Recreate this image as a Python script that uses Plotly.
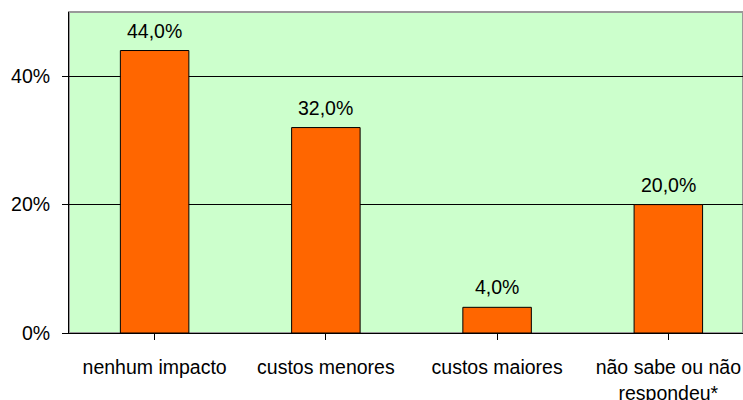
import plotly.graph_objects as go

categories = ["nenhum impacto", "custos menores", "custos maiores", "não sabe ou não<br>respondeu*"]
values = [44.0, 32.0, 4.0, 20.0]
y_ticks = [0, 20, 40]
y_tick_labels = ["0%", "20%", "40%"]

font_family = "Liberation Sans, Arial, sans-serif"

fig = go.Figure()
fig.add_trace(go.Bar(
    x=list(range(len(categories))),
    y=values,
    width=0.4,
    marker=dict(color="#FF6600", line=dict(color="#000000", width=1)),
    hoverinfo="skip",
))

# value labels above each bar
for i, v in enumerate(values):
    fig.add_annotation(
        x=i, y=v, text=f"{v:.1f}".replace(".", ",") + "%",
        showarrow=False, yanchor="bottom", yshift=7,
        font=dict(family=font_family, size=19.5, color="#000000"),
    )

# grey frame around the plotting area
fig.add_shape(type="rect", xref="paper", yref="paper", x0=0, y0=0, x1=1, y1=1,
              line=dict(color="#999999", width=2), layer="below")

fig.update_layout(
    width=743, height=400,
    margin=dict(l=69, r=0, t=12, b=67),
    paper_bgcolor="#FFFFFF",
    plot_bgcolor="#CCFFCC",
    showlegend=False,
    bargap=0.6,
    font=dict(family=font_family, size=19.5, color="#000000"),
    xaxis=dict(
        range=[-0.5, 3.436],
        tickmode="array",
        tickvals=list(range(len(categories))),
        ticktext=categories,
        tickson="boundaries",
        ticks="outside", ticklen=6, tickcolor="#000000", tickwidth=1,
        showgrid=False, zeroline=False,
        showline=True, linecolor="#000000", linewidth=1,
        ticklabelstandoff=11,
        automargin=False,
        fixedrange=True,
    ),
    yaxis=dict(
        range=[0, 50],
        tickmode="array",
        tickvals=y_ticks,
        ticktext=y_tick_labels,
        ticks="outside", ticklen=6, tickcolor="#000000", tickwidth=1,
        showgrid=True, gridcolor="#000000", gridwidth=1,
        zeroline=False,
        showline=True, linecolor="#000000", linewidth=1,
        ticklabelstandoff=8,
        automargin=False,
        fixedrange=True,
    ),
)

fig.write_html("out.html")
